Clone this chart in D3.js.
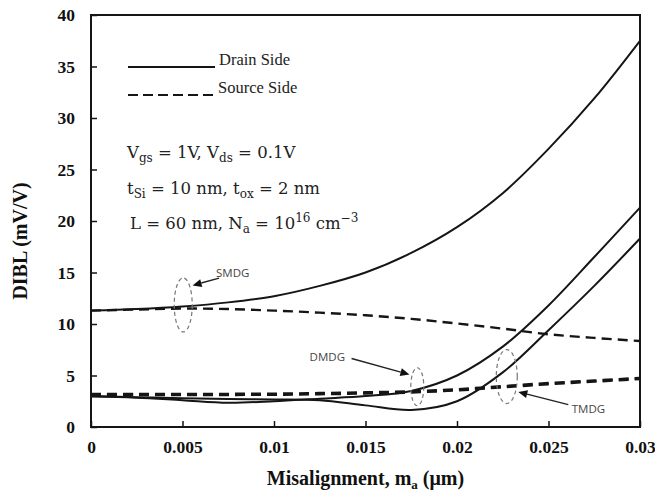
<!DOCTYPE html>
<html>
<head>
<meta charset="utf-8">
<script src="https://cdn.jsdelivr.net/npm/d3@7"></script>
<style>
  html, body { margin: 0; padding: 0; background: #fff; }
  svg { display: block; }
  .tick-label { font-family: "Liberation Serif", "Times New Roman", serif; font-weight: bold; font-size: 17.5px; fill: #111; }
  .axis-title { font-family: "Liberation Serif", "Times New Roman", serif; font-weight: bold; font-size: 20px; fill: #111; }
  .legend-text { font-family: "Liberation Serif", "Times New Roman", serif; font-size: 16.5px; fill: #222; }
  .param-text { font-family: "DejaVu Serif", serif; font-size: 16.5px; fill: #222; }
  .anno-text { font-family: "Open Sans", "DejaVu Sans", sans-serif; font-size: 11.5px; fill: #444; }
</style>
</head>
<body>
<svg id="chart" width="655" height="494"></svg>
<script>
// Misalignment (µm) sample points
const misalignment = [0, 0.0025, 0.005, 0.0075, 0.01, 0.0125, 0.015, 0.0175, 0.02, 0.0225, 0.025, 0.0275, 0.03];

// DIBL (mV/V), drain-side misalignment (solid)
const smdgDrain = [11.3, 11.45, 11.7, 12.1, 12.7, 13.7, 15.0, 16.9, 19.4, 22.7, 27.0, 31.9, 37.5];
const dmdgDrain = [2.95, 2.85, 2.6, 2.35, 2.5, 2.75, 3.0, 3.5, 5.0, 7.8, 11.8, 16.5, 21.3];
const tmdgDrain = [3.0, 2.9, 2.8, 2.72, 2.68, 2.6, 2.1, 1.65, 2.5, 5.3, 9.4, 13.7, 18.3];

// DIBL (mV/V), source-side misalignment (dashed)
const smdgSource = [11.3, 11.4, 11.5, 11.45, 11.3, 11.1, 10.85, 10.5, 10.05, 9.55, 9.0, 8.65, 8.35];
const dmdgSource = [3.2, 3.2, 3.2, 3.2, 3.22, 3.28, 3.35, 3.45, 3.65, 3.95, 4.25, 4.5, 4.75];
const tmdgSource = [3.12, 3.12, 3.12, 3.13, 3.15, 3.2, 3.27, 3.37, 3.57, 3.87, 4.17, 4.42, 4.67];

// Axis ticks
const xTicks = [0, 0.005, 0.01, 0.015, 0.02, 0.025, 0.03];
const xTickLabels = ["0", "0.005", "0.01", "0.015", "0.02", "0.025", "0.03"];
const yTicks = [0, 5, 10, 15, 20, 25, 30, 35, 40];

const svg = d3.select("#chart");
const margin = { left: 91, right: 15, top: 15, bottom: 67 };
const W = 655, H = 494;

const x = d3.scaleLinear().domain([0, 0.03]).range([margin.left, W - margin.right]);
const y = d3.scaleLinear().domain([0, 40]).range([H - margin.bottom, margin.top]);

const ink = "#151515";

// Curves
const line = d3.line()
  .x(d => x(d[0]))
  .y(d => y(d[1]))
  .curve(d3.curveCatmullRom.alpha(0.5));

const series = [
  { values: smdgSource, dash: "10,6", width: 2.4 },
  { values: dmdgSource, dash: "10,6", width: 2.8 },
  { values: tmdgSource, dash: "10,6", width: 2.8 },
  { values: smdgDrain, dash: null, width: 2 },
  { values: dmdgDrain, dash: null, width: 2 },
  { values: tmdgDrain, dash: null, width: 2 }
];

svg.append("defs").append("clipPath").attr("id", "clip")
  .append("rect")
  .attr("x", x(0)).attr("y", y(40))
  .attr("width", x(0.03) - x(0)).attr("height", y(0) - y(40));

svg.append("g").selectAll("path")
  .data(series)
  .join("path")
  .attr("clip-path", "url(#clip)")
  .attr("fill", "none")
  .attr("stroke", ink)
  .attr("stroke-width", d => d.width)
  .attr("stroke-dasharray", d => d.dash)
  .attr("d", d => line(misalignment.map((m, i) => [m, d.values[i]])));

// Axes with inward ticks
const xAxis = d3.axisBottom(x).tickValues(xTicks).tickSizeInner(-6).tickSizeOuter(0).tickFormat((d, i) => xTickLabels[i]);
const yAxis = d3.axisLeft(y).tickValues(yTicks).tickSizeInner(-6).tickSizeOuter(0).tickFormat(d3.format("d"));

const gx = svg.append("g").attr("transform", `translate(0,${y(0)})`).call(xAxis);
const gy = svg.append("g").attr("transform", `translate(${x(0)},0)`).call(yAxis);
[gx, gy].forEach(g => {
  g.select(".domain").remove();
  g.selectAll(".tick line").attr("stroke", ink).attr("stroke-width", 1.5);
  g.selectAll(".tick text").attr("class", "tick-label").attr("fill", ink);
});
gx.selectAll(".tick text").attr("dy", null).attr("y", 26);
gy.selectAll(".tick text").attr("x", -16).attr("dy", "0.34em");

// Frame
svg.append("rect")
  .attr("x", x(0)).attr("y", y(40))
  .attr("width", x(0.03) - x(0)).attr("height", y(0) - y(40))
  .attr("fill", "none").attr("stroke", ink).attr("stroke-width", 2);

// Axis titles
const xt = svg.append("text").attr("class", "axis-title")
  .attr("x", (x(0) + x(0.03)) / 2).attr("y", 485).attr("text-anchor", "middle");
xt.append("tspan").text("Misalignment, m");
xt.append("tspan").attr("font-size", "13px").attr("dy", 4).text("a");
xt.append("tspan").attr("dy", -4).text(" (\u03bcm)");

svg.append("text").attr("class", "axis-title")
  .attr("transform", `translate(27,241) rotate(-90)`)
  .attr("text-anchor", "middle")
  .text("DIBL (mV/V)");

// Legend
const legend = svg.append("g");
legend.append("line").attr("x1", 128).attr("x2", 215).attr("y1", 67).attr("y2", 67)
  .attr("stroke", ink).attr("stroke-width", 2);
legend.append("text").attr("class", "legend-text").attr("x", 219).attr("y", 65).text("Drain Side");
legend.append("line").attr("x1", 128).attr("x2", 213).attr("y1", 95).attr("y2", 95)
  .attr("stroke", ink).attr("stroke-width", 2).attr("stroke-dasharray", "10,5");
legend.append("text").attr("class", "legend-text").attr("x", 218).attr("y", 93).text("Source Side");

// Device parameters
function richLine(parts, px, py) {
  const t = svg.append("text").attr("class", "param-text").attr("x", px).attr("y", py);
  let shift = 0;
  parts.forEach(p => {
    const s = t.append("tspan");
    const target = p.sub ? 4 : p.sup ? -7 : 0;
    s.attr("dy", target - shift).text(p.t);
    if (p.sub || p.sup) s.attr("font-size", "12px");
    shift = target;
  });
  return t;
}
richLine([{ t: "V" }, { t: "gs", sub: true }, { t: " = 1V, V" }, { t: "ds", sub: true }, { t: " = 0.1V" }], 127, 158);
richLine([{ t: "t" }, { t: "Si", sub: true }, { t: " = 10 nm, t" }, { t: "ox", sub: true }, { t: " = 2 nm" }], 127, 194);
richLine([{ t: "L = 60 nm, N" }, { t: "a", sub: true }, { t: " = 10" }, { t: "16", sup: true }, { t: " cm" }, { t: "\u22123", sup: true }], 130, 229);

// Annotations: dashed ellipses, arrows and labels (data coordinates)
const annotations = [
  { label: "SMDG", cx: 0.00504, cy: 11.85, rx: 9, ry: 27, lx: 0.00683, ly: 14.95, anchor: "start",
    from: [0.00700, 14.45], to: [0.00555, 13.75] },
  { label: "DMDG", cx: 0.01783, cy: 3.91, rx: 6.5, ry: 19, lx: 0.01388, ly: 6.8, anchor: "end",
    from: [0.01424, 6.65], to: [0.01740, 5.1] },
  { label: "TMDG", cx: 0.02272, cy: 4.9, rx: 10.5, ry: 27, lx: 0.02627, ly: 1.75, anchor: "start",
    from: [0.02608, 2.17], to: [0.02335, 3.4] }
];

const ag = svg.append("g");
annotations.forEach(a => {
  ag.append("ellipse")
    .attr("cx", x(a.cx)).attr("cy", y(a.cy)).attr("rx", a.rx).attr("ry", a.ry)
    .attr("fill", "none").attr("stroke", "#777").attr("stroke-width", 1.2)
    .attr("stroke-dasharray", "4,3");

  const x1 = x(a.from[0]), y1 = y(a.from[1]);
  const x2 = x(a.to[0]), y2 = y(a.to[1]);
  const len = Math.hypot(x2 - x1, y2 - y1);
  const ux = (x2 - x1) / len, uy = (y2 - y1) / len;
  const headLen = 9, headHalf = 4;
  const bx = x2 - ux * headLen, by = y2 - uy * headLen;

  ag.append("line")
    .attr("x1", x1).attr("y1", y1).attr("x2", bx).attr("y2", by)
    .attr("stroke", "#222").attr("stroke-width", 1.4);
  ag.append("path")
    .attr("d", `M${x2},${y2} L${bx - uy * headHalf},${by + ux * headHalf} L${bx + uy * headHalf},${by - ux * headHalf} Z`)
    .attr("fill", "#111");

  ag.append("text").attr("class", "anno-text")
    .attr("x", x(a.lx)).attr("y", y(a.ly)).attr("dy", "0.35em")
    .attr("text-anchor", a.anchor).text(a.label);
});
</script>
</body>
</html>
